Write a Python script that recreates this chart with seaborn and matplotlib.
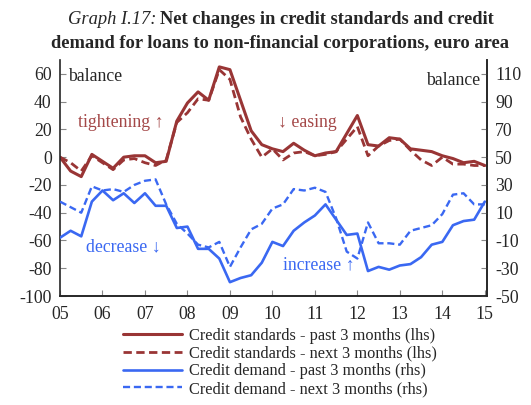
import numpy as np
import pandas as pd
import matplotlib
matplotlib.use("Agg")
import matplotlib.pyplot as plt
import seaborn as sns

# quarterly data 2005Q1 - 2015Q1
quarters = np.arange(2005, 2015.01, 0.25)

standards_past = [0, -10, -14, 2, -3, -8, 0, 1, 1, -4, -3, 26, 39, 47, 41, 65, 63,
                  41, 19, 9, 6, 4, 10, 5, 1, 3, 4, 17, 30, 9, 8, 14, 13, 6, 5,
                  4, 1, -1, -4, -3, -6]
standards_next = [0, -4, -10, 1, -4, -9, -2, -1, -4, -6, -2, 25, 32, 42, 41, 63, 56,
                  29, 13, 0, 6, -2, 3, 4, 1, 2, 4, 13, 22, 1, 8, 12, 13, 5, -2,
                  -6, 0, -5, -5, -6, -6]
demand_past = [-8, -3, -7, 18, 26, 19, 24, 17, 24, 15, 15, -1, 0, -16, -16, -23, -40,
               -37, -35, -26, -11, -14, -3, 3, 8, 16, 5, -6, -5, -32, -29, -31, -28,
               -27, -22, -13, -11, 1, 4, 5, 18]
demand_next = [18, 14, 10, 29, 26, 27, 25, 30, 33, 34, 16, 2, -5, -13, -15, -11, -29,
               -15, -2, 2, 13, 16, 27, 26, 28, 25, 6, -18, -23, 3, -12, -12, -13,
               -3, -1, 1, 9, 23, 24, 16, 16]

year_ticks = list(range(2005, 2016))
year_labels = ["05", "06", "07", "08", "09", "10", "11", "12", "13", "14", "15"]

df = pd.DataFrame({"quarter": quarters,
                   "standards_past": standards_past,
                   "standards_next": standards_next,
                   "demand_past": demand_past,
                   "demand_next": demand_next})

sns.set_style("ticks")
plt.rcParams["font.family"] = ["Liberation Serif", "DejaVu Serif"]
plt.rcParams["font.size"] = 12.5
plt.rcParams["axes.unicode_minus"] = False

red = "#993535"
red_txt = "#a44848"
blue = "#3a68f2"
fs = 12.8

fig = plt.figure(figsize=(5.31, 4.05), dpi=100)
ax = fig.add_axes([0.113, 0.269, 0.804, 0.583])
ax2 = ax.twinx()

sns.lineplot(data=df, x="quarter", y="standards_past", ax=ax, color=red, lw=2.2,
             label="Credit standards - past 3 months (lhs)", legend=False)
sns.lineplot(data=df, x="quarter", y="standards_next", ax=ax, color=red, lw=2.0,
             linestyle=(0, (3, 1.6)), label="Credit standards - next 3 months (lhs)", legend=False)
sns.lineplot(data=df, x="quarter", y="demand_past", ax=ax2, color=blue, lw=1.9,
             label="Credit demand - past 3 months (rhs)", legend=False)
sns.lineplot(data=df, x="quarter", y="demand_next", ax=ax2, color=blue, lw=1.7,
             linestyle=(0, (3, 1.6)), label="Credit demand - next 3 months (rhs)", legend=False)

ax.set_xlim(2005, 2015.05)
ax.set_ylim(-100, 70)
ax2.set_ylim(-50, 120)
ax.set_yticks(range(-100, 61, 20))
ax2.set_yticks(range(-50, 111, 20))
ax.set_xticks(year_ticks)
ax.set_xticklabels(year_labels)
ax.set_xlabel("")
ax.set_ylabel("")
ax2.set_ylabel("")
for a in (ax, ax2):
    a.spines["top"].set_visible(False)
    a.tick_params(direction="in", length=4, width=0.8, color="#888888", labelsize=fs)
    for s in a.spines.values():
        s.set_linewidth(1.2)
ax.tick_params(axis="x", pad=7)
ax.tick_params(axis="y", pad=6)
ax2.tick_params(axis="y", pad=6)
ax2.spines["left"].set_visible(False)

# annotations
ax.text(0.02, 0.93, "balance", transform=ax.transAxes, fontsize=fs, va="center")
ax.text(0.985, 0.915, "balance", transform=ax.transAxes, fontsize=fs, va="center", ha="right")
ax.text(0.043, 0.737, "tightening \u2191", transform=ax.transAxes, fontsize=fs,
        color=red_txt, va="center")
ax.text(0.51, 0.737, "\u2193 easing", transform=ax.transAxes, fontsize=fs,
        color=red_txt, va="center")
ax.text(0.06, 0.208, "decrease \u2193", transform=ax.transAxes, fontsize=fs,
        color=blue, va="center")
ax.text(0.522, 0.131, "increase \u2191", transform=ax.transAxes, fontsize=fs,
        color=blue, va="center")

# title
fig.text(156 / 531, 1 - 20 / 405, "Graph I.17:", style="italic", fontsize=13.3,
         ha="right", va="center")
fig.text(160 / 531, 1 - 20 / 405, "Net changes in credit standards and credit",
         weight="bold", fontsize=13.3, ha="left", va="center")
fig.text(280 / 531, 1 - 43 / 405, "demand for loans to non-financial corporations, euro area",
         weight="bold", fontsize=13.3, ha="center", va="center")

h1, l1 = ax.get_legend_handles_labels()
h2, l2 = ax2.get_legend_handles_labels()
fig.legend(h1 + h2, l1 + l2, loc="upper center", bbox_to_anchor=(0.527, 0.21),
           frameon=False, fontsize=11.8, handlelength=3.6, labelspacing=0.1,
           handletextpad=0.45, borderpad=0)

fig.savefig("out.png", dpi=100)
